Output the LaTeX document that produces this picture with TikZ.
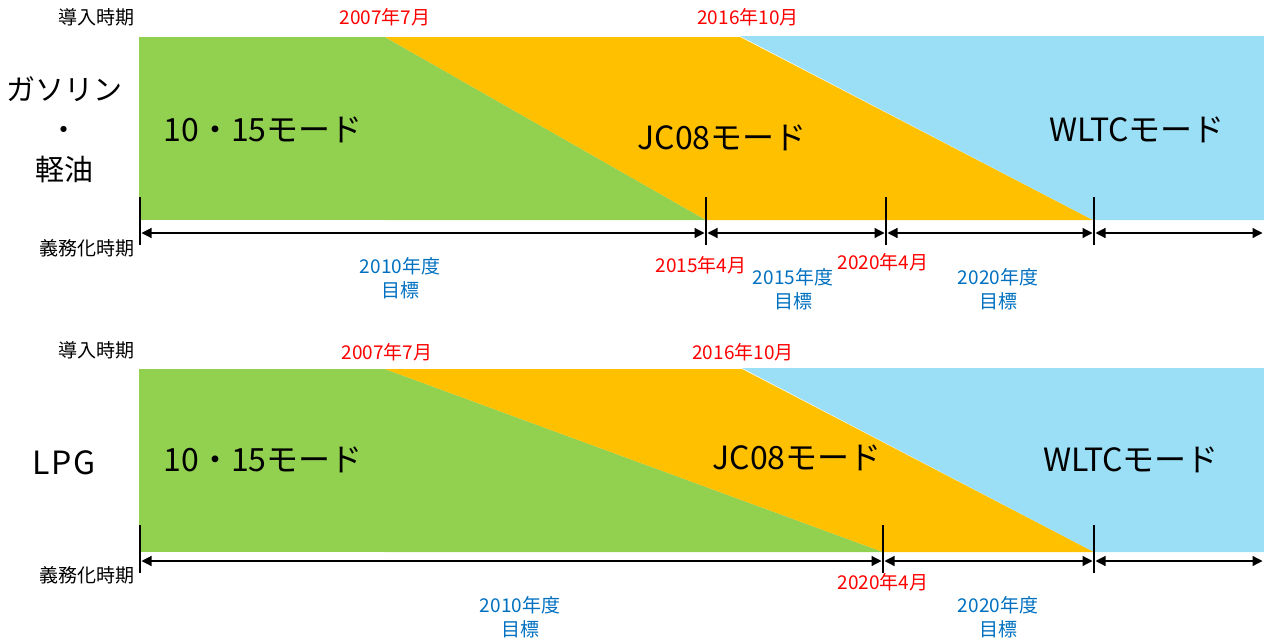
\documentclass[tikz,border=0pt]{standalone}
\usepackage{fontspec}
\setmainfont{Noto Sans CJK JP}
\usetikzlibrary{arrows.meta, positioning}

\definecolor{modegreen}{HTML}{92D050}
\definecolor{modeorange}{HTML}{FFC000}
\definecolor{modeblue}{HTML}{9ADFF5}
\definecolor{datered}{HTML}{FF0000}
\definecolor{goalblue}{HTML}{0070C0}

\begin{document}
\begin{tikzpicture}[x=1pt, y=-1pt,
    small/.style={font=\fontsize{19}{24}\selectfont, inner sep=0pt, align=center},
    big/.style={font=\fontsize{32}{40}\selectfont, inner sep=0pt, align=center},
    fuel/.style={font=\fontsize{29}{40}\selectfont, inner sep=0pt, align=center},
    date/.style={small, text=datered},
    goal/.style={small, text=goalblue},
    tick/.style={line width=2.2pt},
    span/.style={{Triangle[length=10pt,width=10pt]}-{Triangle[length=10pt,width=10pt]}, line width=1.2pt, shorten <=1.5pt, shorten >=1.5pt}]
\useasboundingbox (0,0) rectangle (1264,640);

% ---- gasoline / diesel ----
% mode bands
\fill[modegreen] (139,37) rectangle (385,220);
\fill[modegreen] (385,37) -- (706,220) -- (385,220) -- cycle;
\fill[modeorange] (385,37) -- (740,37) -- (1093,220) -- (706,220) -- cycle;
\fill[modeblue] (740,36) -- (1264,36) -- (1264,220) -- (1093,220) -- cycle;

% ticks and spans
\coordinate (g0) at (140,233);
\coordinate (g1) at (706,233);
\coordinate (g2) at (886,233);
\coordinate (g3) at (1094,233);
\coordinate (gend) at (1264,233);
\foreach \t in {g0,g1,g2,g3}
    \draw[tick] ([yshift=36pt]\t) -- ([yshift=-12pt]\t);
\draw[span] (g0) -- (g1);
\draw[span] (g1) -- (g2);
\draw[span] (g2) -- (g3);
\draw[span] (g3) -- (gend);

% labels
\node[small] (gintro) at (96,17) {導入時期};
\node[small] (gduty) at (87,248) {義務化時期};
\node[fuel] (gfuel) at (64,130) {ガソリン\\・\\軽油};
\node[date] (g2007) at (385,17) {2007年7月};
\node[date] (g2016) at (748,17) {2016年10月};
\node[big] (g1015) at (263,130) {10・15モード};
\node[big] (gjc08) at (722,138) {JC08モード};
\node[big] (gwltc) at (1137,130) {WLTCモード};
\node[date] (g2015m) at (701,265) {2015年4月};
\node[date] (g2020m) at (883,262) {2020年4月};
\node[goal] (g2010g) at (400,278) {2010年度\\目標};
\node[goal] (g2015g) at (793,289) {2015年度\\目標};
\node[goal] (g2020g) at (998,289) {2020年度\\目標};

% ---- LPG ----
% mode bands
\fill[modegreen] (139,369) rectangle (385,552);
\fill[modegreen] (385,369) -- (883,552) -- (385,552) -- cycle;
\fill[modeorange] (385,369) -- (742,369) -- (1094,552) -- (883,552) -- cycle;
\fill[modeblue] (742,368) -- (1264,368) -- (1264,552) -- (1094,552) -- cycle;

% ticks and spans
\coordinate (l0) at (140,561);
\coordinate (l1) at (883,561);
\coordinate (l2) at (1094,561);
\coordinate (lend) at (1264,561);
\foreach \t in {l0,l1,l2}
    \draw[tick] ([yshift=36pt]\t) -- ([yshift=-12pt]\t);
\draw[span] (l0) -- (l1);
\draw[span] (l1) -- (l2);
\draw[span] (l2) -- (lend);

% labels
\node[small] (lintro) at (96,350) {導入時期};
\node[small] (lduty) at (87,575) {義務化時期};
\node[big] (lfuel) at (64,463) {\addfontfeature{LetterSpace=5}LPG};
\node[date] (l2007) at (387,352) {2007年7月};
\node[date] (l2016) at (743,352) {2016年10月};
\node[big] (l1015) at (263,460) {10・15モード};
\node[big] (ljc08) at (797,458) {JC08モード};
\node[big] (lwltc) at (1131,460) {WLTCモード};
\node[date] (l2020m) at (883,582) {2020年4月};
\node[goal] (l2010g) at (520,617) {2010年度\\目標};
\node[goal] (l2020g) at (998,617) {2020年度\\目標};
\end{tikzpicture}
\end{document}
